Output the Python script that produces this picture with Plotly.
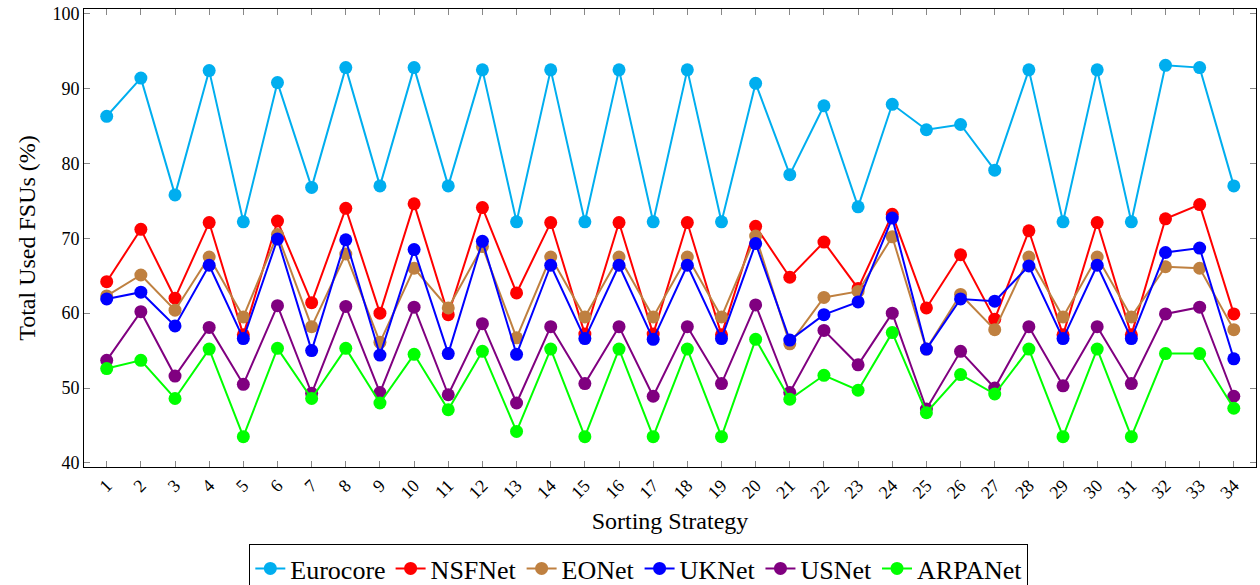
import plotly.graph_objects as go

strategies = list(range(1, 35))

eurocore = [86.3, 91.4, 75.8, 92.4, 72.2, 90.8, 76.8, 92.8, 77.0, 92.8,
            77.0, 92.5, 72.2, 92.5, 72.2, 92.5, 72.2, 92.5, 72.2, 90.7,
            78.5, 87.7, 74.2, 87.9, 84.5, 85.2, 79.1, 92.5, 72.2, 92.5,
            72.2, 93.1, 92.8, 77.0]
nsfnet = [64.2, 71.2, 62.0, 72.1, 57.1, 72.3, 61.4, 74.0, 60.0, 74.6,
          59.8, 74.1, 62.7, 72.1, 57.2, 72.1, 57.2, 72.1, 57.1, 71.6,
          64.8, 69.5, 63.3, 73.2, 60.7, 67.8, 59.2, 71.0, 57.1, 72.1,
          57.1, 72.6, 74.5, 59.9]
eonet = [62.3, 65.1, 60.4, 67.5, 59.5, 70.5, 58.2, 67.9, 56.1, 66.0,
         60.7, 68.9, 56.7, 67.5, 59.5, 67.5, 59.5, 67.5, 59.5, 70.3,
         55.9, 62.1, 62.9, 70.2, 55.2, 62.5, 57.8, 67.5, 59.5, 67.5,
         59.5, 66.2, 66.0, 57.8]
uknet = [61.9, 62.8, 58.3, 66.4, 56.6, 69.9, 55.0, 69.8, 54.4, 68.5,
         54.6, 69.6, 54.5, 66.4, 56.6, 66.4, 56.5, 66.4, 56.6, 69.3,
         56.4, 59.8, 61.5, 72.7, 55.2, 61.9, 61.6, 66.3, 56.6, 66.4,
         56.6, 68.1, 68.7, 53.9]
usnet = [53.7, 60.2, 51.6, 58.1, 50.5, 61.0, 49.3, 60.9, 49.4, 60.8,
         49.1, 58.6, 48.0, 58.2, 50.6, 58.2, 48.9, 58.2, 50.6, 61.1,
         49.4, 57.7, 53.1, 60.0, 47.2, 54.9, 50.0, 58.2, 50.3, 58.2,
         50.6, 59.9, 60.8, 48.9]
arpanet = [52.6, 53.7, 48.6, 55.2, 43.5, 55.3, 48.6, 55.3, 48.0, 54.5,
           47.1, 54.9, 44.2, 55.2, 43.5, 55.2, 43.5, 55.2, 43.5, 56.5,
           48.5, 51.7, 49.7, 57.4, 46.7, 51.8, 49.2, 55.2, 43.5, 55.2,
           43.5, 54.6, 54.6, 47.3]

series = [
    ("Eurocore", eurocore, "#00AEEF"),
    ("NSFNet", nsfnet, "#FF0000"),
    ("EONet", eonet, "#BF8040"),
    ("UKNet", uknet, "#0000FF"),
    ("USNet", usnet, "#800080"),
    ("ARPANet", arpanet, "#00FF00"),
]

y_ticks = [40, 50, 60, 70, 80, 90, 100]

fig = go.Figure()
for name, vals, col in series:
    fig.add_trace(go.Scatter(
        x=strategies, y=vals, name=name, mode="lines+markers",
        line=dict(color=col, width=2),
        marker=dict(color=col, size=13),
    ))

font_family = "Liberation Serif"
fig.update_layout(
    width=1260, height=585,
    margin=dict(l=84, r=4, t=9, b=118),
    plot_bgcolor="white", paper_bgcolor="white",
    font=dict(family=font_family, size=18, color="black"),
    showlegend=True,
    legend=dict(
        orientation="h", xref="container", yref="container",
        x=0.507, xanchor="center", y=1 - 544 / 585, yanchor="top",
        bordercolor="black", borderwidth=1,
        font=dict(family=font_family, size=26),
        itemwidth=30, tracegroupgap=0,
    ),
)
fig.update_xaxes(
    range=[0.335, 34.65],
    tickmode="array", tickvals=strategies,
    ticktext=[str(s) for s in strategies],
    tickangle=-45,
    ticks="inside", ticklen=6, tickcolor="#888888",
    showline=True, linecolor="black", linewidth=1, mirror="ticks",
    showgrid=False, zeroline=False,
    tickfont=dict(family=font_family, size=18),
    title=dict(text="Sorting Strategy", font=dict(family=font_family, size=24), standoff=10),
)
fig.update_yaxes(
    range=[39.45, 100.63],
    tickmode="array", tickvals=y_ticks,
    ticks="inside", ticklen=6, tickcolor="#888888",
    showline=True, linecolor="black", linewidth=1, mirror="ticks",
    showgrid=False, zeroline=False,
    tickfont=dict(family=font_family, size=18),
    title=dict(text="Total Used FSUs (%)", font=dict(family=font_family, size=24), standoff=10),
)

fig.write_html("out.html")
